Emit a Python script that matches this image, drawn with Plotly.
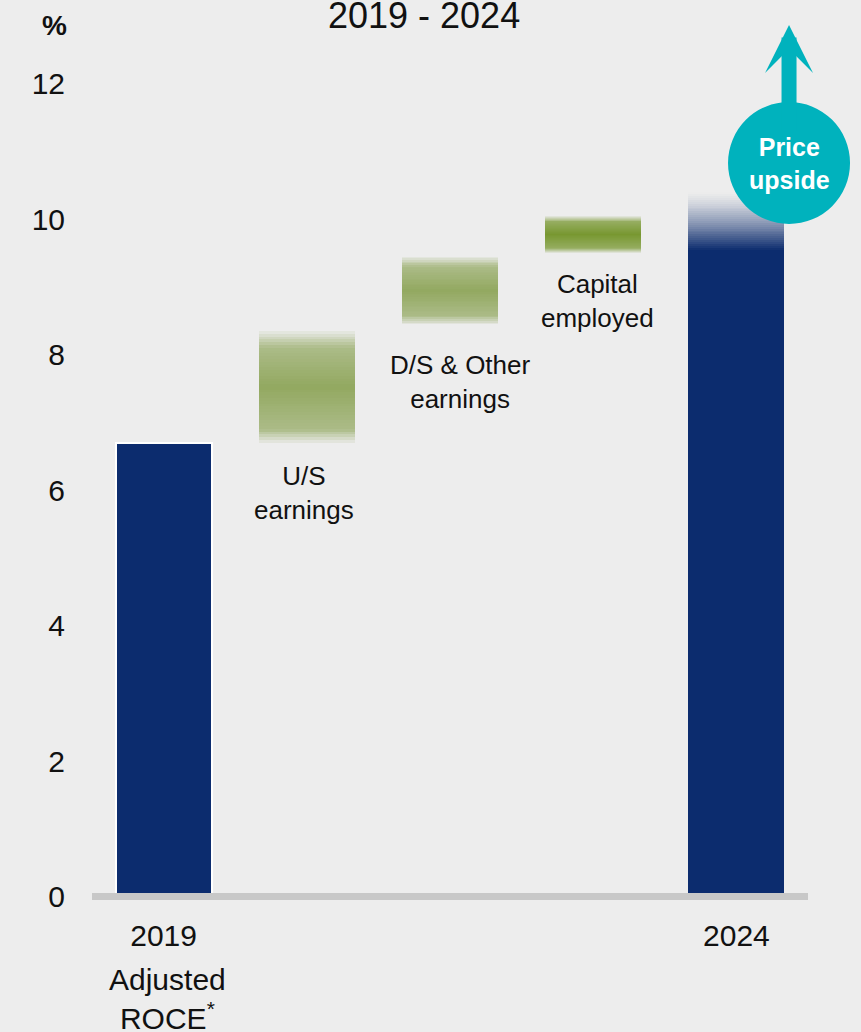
import numpy as np
import plotly.graph_objects as go

# --- data -------------------------------------------------------------
categories = ["2019", "U/S earnings", "D/S & Other earnings", "Capital employed", "2024"]
roce_2019 = 6.7
roce_2024 = 10.4          # top of the faded 2024 bar
roce_2024_solid = 9.55    # 2024 bar is solid up to here, then fades out
step_labels = ["U/S<br>earnings", "D/S & Other<br>earnings", "Capital<br>employed"]
step_low = [6.7, 8.45, 9.5]
step_high = [8.35, 9.45, 10.05]
y_ticks = [0, 2, 4, 6, 8, 10, 12]
x_tick_labels = ["2019", "2024"]

# --- style ------------------------------------------------------------
BG = "#ededed"
NAVY = (12, 44, 110)
TEAL = "#00b2bd"
STEP_RGB = [(146, 168, 96), (146, 168, 96), (118, 150, 46)]
STEP_XSHIFT = [-3, 10, 4]
STEP_YSHIFT = [-16, -24, -14]
BAR_W = 0.67
FONT = "Liberation Sans, Arial, sans-serif"

pos = list(range(len(categories)))


def rgba(rgb, a):
    return f"rgba({rgb[0]},{rgb[1]},{rgb[2]},{a:.3f})"


def gradient_bar(x, lo, hi, rgb, alpha_fn, n=40):
    # a faded box built from thin stacked bar slices
    step = (hi - lo) / n
    u = (np.arange(n) + 0.5) / n
    return go.Bar(
        x=[x] * n,
        y=[step] * n,
        base=[lo + i * step for i in range(n)],
        width=BAR_W,
        marker={"color": [rgba(rgb, alpha_fn(v)) for v in u], "line": {"width": 0}},
        hoverinfo="skip",
        showlegend=False,
    )


def green_alpha(u):
    return float(np.interp(u, [0, 0.12, 0.5, 0.85, 1], [0.05, 0.72, 1.0, 0.72, 0.05]))


def fade_alpha(u):
    return (1 - u) ** 1.3


fig = go.Figure()

# 2019 bar
fig.add_trace(go.Bar(
    x=[pos[0]], y=[roce_2019], width=BAR_W,
    marker={"color": rgba(NAVY, 1), "line": {"color": "white", "width": 2}},
    hoverinfo="skip", showlegend=False,
))

# step boxes
for i, (lo, hi) in enumerate(zip(step_low, step_high)):
    fig.add_trace(gradient_bar(pos[i + 1], lo, hi, STEP_RGB[i], green_alpha))

# 2024 bar: solid part + fading top
fig.add_trace(go.Bar(
    x=[pos[4]], y=[roce_2024_solid], width=BAR_W,
    marker={"color": rgba(NAVY, 1), "line": {"width": 0}},
    hoverinfo="skip", showlegend=False,
))
fig.add_trace(gradient_bar(pos[4], roce_2024_solid, roce_2024, NAVY, fade_alpha, n=30))

annotations = []
for i, lab in enumerate(step_labels):
    annotations.append(dict(
        x=pos[i + 1], y=step_low[i], xref="x", yref="y",
        text=lab, showarrow=False, yanchor="top",
        xshift=STEP_XSHIFT[i], yshift=STEP_YSHIFT[i],
        font={"size": 26, "color": "#111111", "family": FONT},
    ))

annotations += [
    dict(x=pos[0], y=0, xref="x", yref="y", text="Adjusted<br>ROCE<sup>*</sup>",
         showarrow=False, yanchor="top", xshift=4, yshift=-64,
         font={"size": 30, "color": "#111111", "family": FONT}),
    dict(x=0.4637, y=1.0207, xref="paper", yref="paper", text="2019 - 2024",
         showarrow=False, xanchor="center", yanchor="middle",
         font={"size": 36, "color": "#111111", "family": FONT}),
    dict(x=-0.053, y=1.0092, xref="paper", yref="paper", text="<b>%</b>",
         showarrow=False, xanchor="center", yanchor="middle",
         font={"size": 28, "color": "#111111", "family": FONT}),
    dict(x=0.9735, y=1.0092, xref="paper", yref="paper",
         text="<b>Price<br>upside</b>", showarrow=True, ax=0, ay=138,
         arrowhead=3, arrowwidth=15, arrowsize=0.533, arrowcolor=TEAL,
         font={"size": 25, "color": "white", "family": FONT}),
]

fig.update_layout(
    width=861,
    height=1032,
    paper_bgcolor=BG,
    plot_bgcolor=BG,
    barmode="overlay",
    bargap=0,
    margin={"t": 33, "b": 130, "l": 92, "r": 53},
    font={"family": FONT, "color": "#111111"},
    xaxis=dict(
        range=[-0.5, 4.5],
        tickvals=[pos[0], pos[4]],
        ticktext=x_tick_labels,
        tickfont={"size": 30},
        showgrid=False, zeroline=False, showline=False,
        ticks="", ticklabelstandoff=13,
        fixedrange=True,
    ),
    yaxis=dict(
        range=[-0.08, 12.75],
        tickvals=y_ticks,
        tickfont={"size": 30},
        showgrid=False, zeroline=False, showline=False,
        ticks="", ticklabelstandoff=26,
        fixedrange=True,
    ),
    shapes=[
        dict(type="line", xref="paper", yref="y", x0=0, x1=1, y0=0, y1=0,
             line={"color": "#c8c8c8", "width": 7}, layer="above"),
        dict(type="circle", xref="paper", yref="paper",
             x0=0.8883, x1=1.0587, y0=0.7802, y1=0.9206,
             fillcolor=TEAL, line={"width": 0}, layer="above"),
    ],
    annotations=annotations,
)

# drop the page's default body margin so the figure fills the window
fig.write_html(
    "out.html",
    config={"displayModeBar": False},
    post_script="document.body.style.margin='0';document.body.style.overflow='hidden';",
)
